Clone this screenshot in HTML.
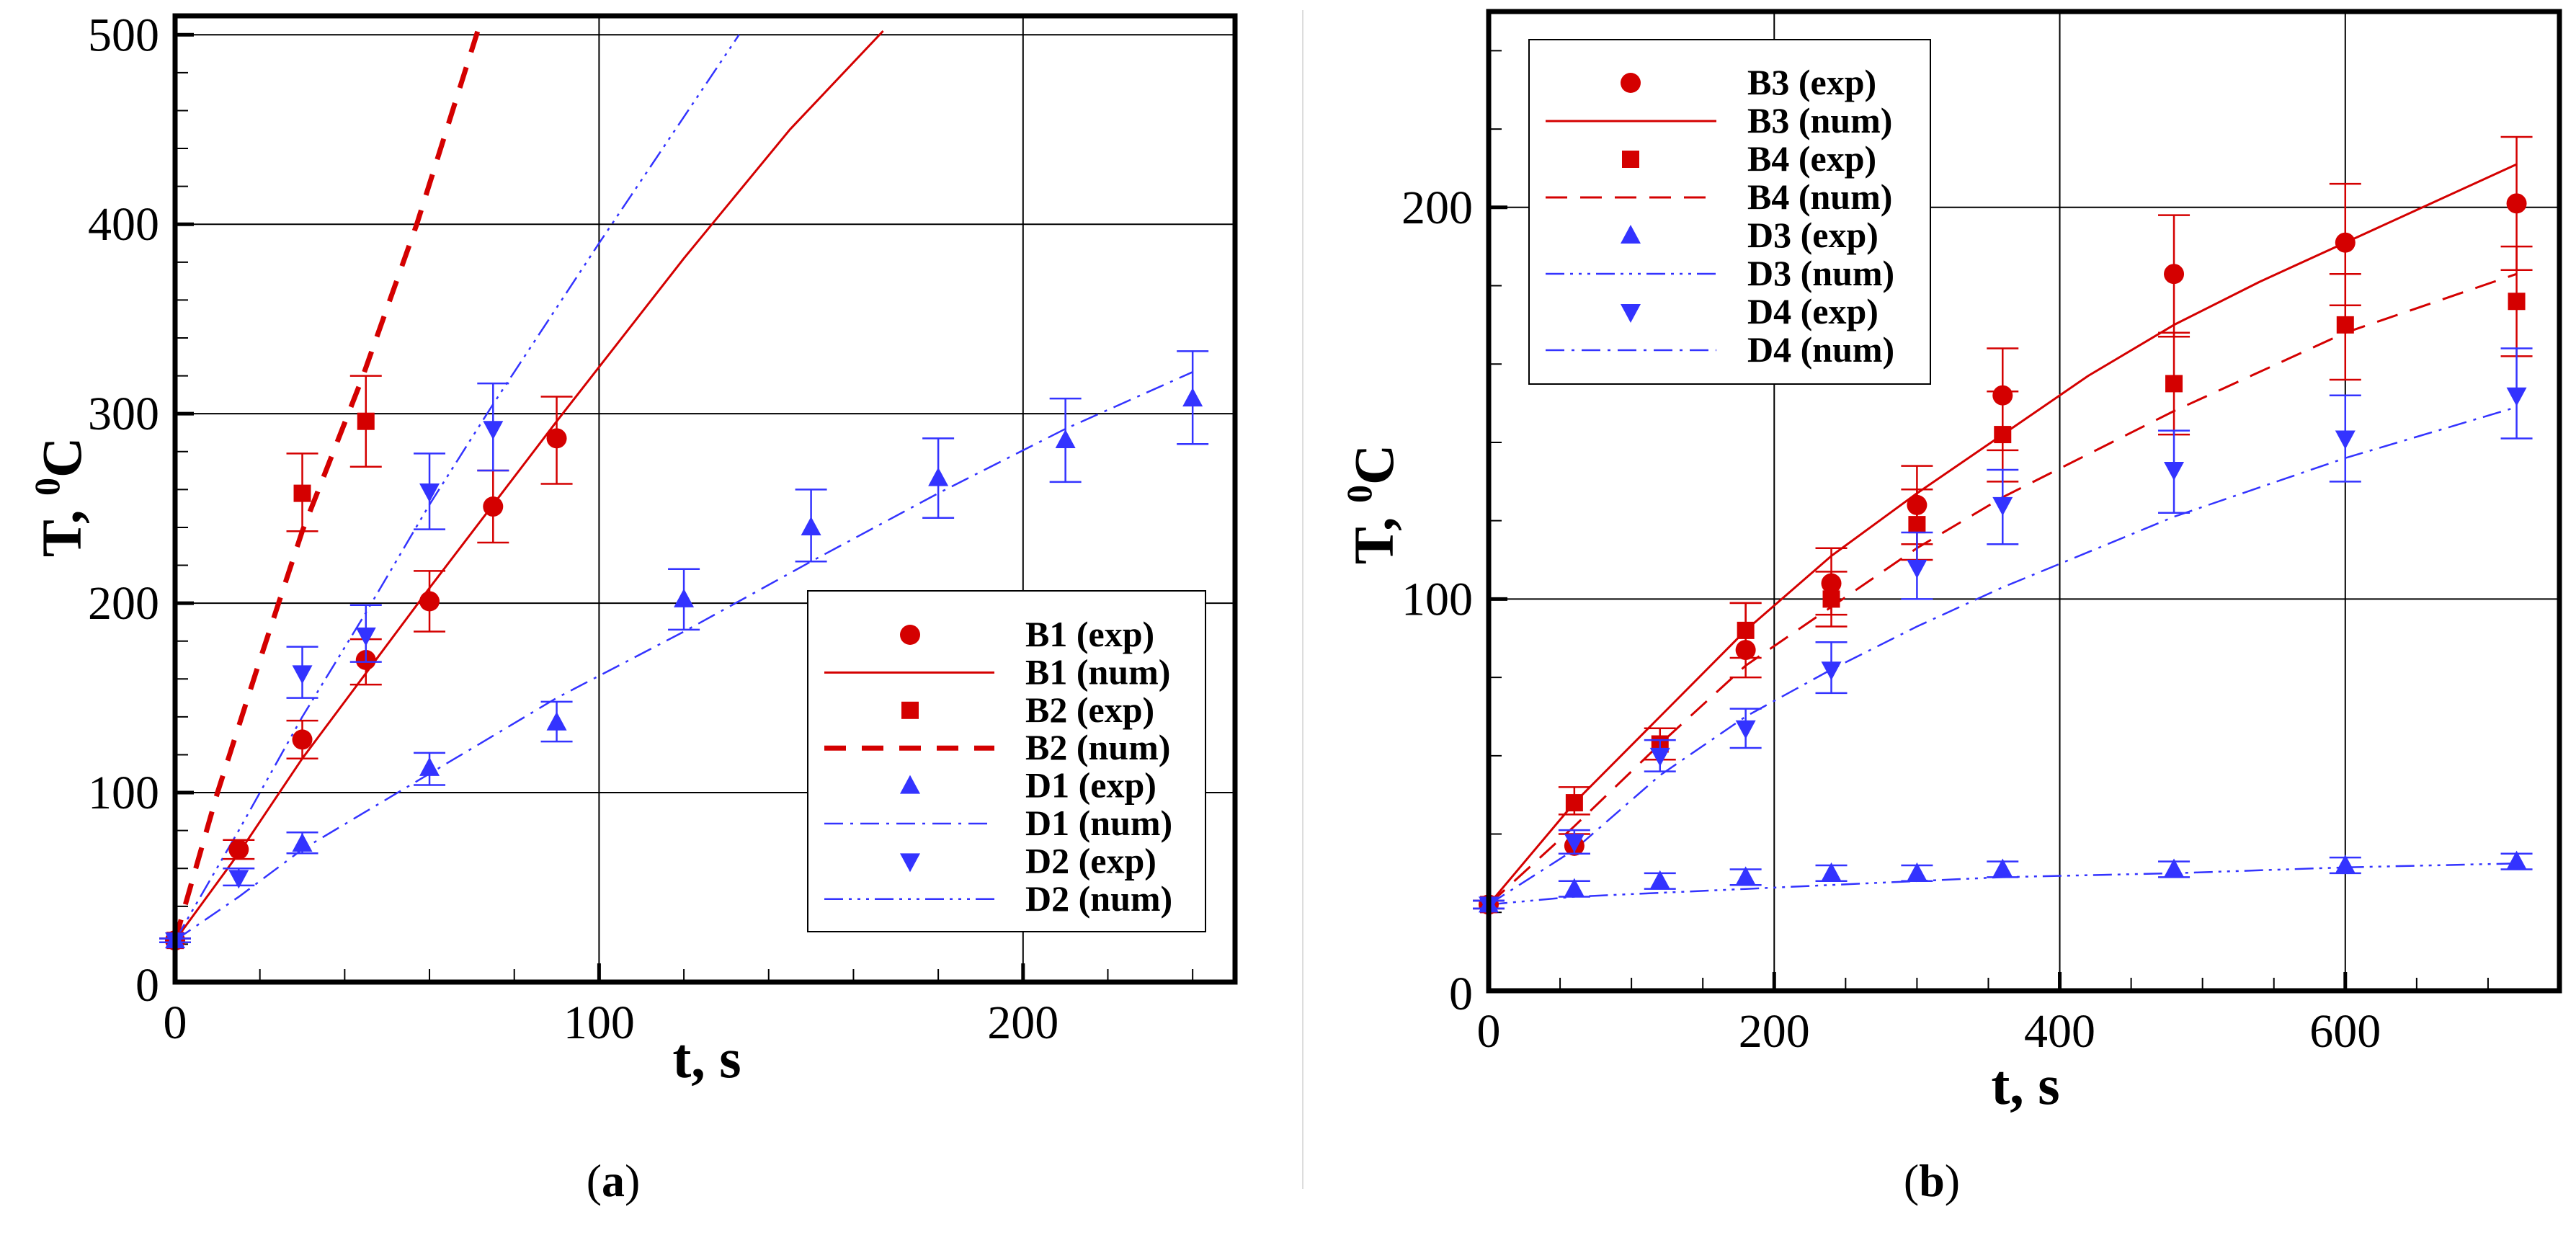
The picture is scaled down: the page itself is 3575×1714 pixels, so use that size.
<!DOCTYPE html>
<html><head><meta charset="utf-8">
<style>
html,body{margin:0;padding:0;background:#fff;}
svg{display:block;}
text{font-family:"Liberation Serif",serif;}
</style></head>
<body>
<svg id="s" width="3575" height="1714" viewBox="0 0 3575 1714" xmlns="http://www.w3.org/2000/svg">
<line x1="1808" y1="14" x2="1808" y2="1650" stroke="#ddd" stroke-width="2"/>
<text x="851" y="1660" font-size="64" text-anchor="middle">(<tspan font-weight="bold">a</tspan>)</text>
<text x="2681" y="1660" font-size="64" text-anchor="middle">(<tspan font-weight="bold">b</tspan>)</text>
</svg>
<script>
// ---- Panel A data ----
const aB1t=[0,15,30,45,60,75,90];
const aB1T=[22,70,128,170,201,251,287];
const aB1lo=[21,65,118,157,185,232,263];
const aB1hi=[23,75,138,181,217,270,309];
const aB1nt=[0,15,30,60,90,120,145,167];
const aB1nT=[22,68,118,208,296,382,450,502];
const aB2t=[0,30,45];
const aB2T=[22,258,296];
const aB2lo=[21,238,272];
const aB2hi=[23,279,320];
const aB2nt=[0,10,20,30,44,57,72.5];
const aB2nT=[22,100,170,238,318,400,510];
const aD1t=[0,30,60,90,120,150,180,210,240];
const aD1T=[22,73,113,137,202,240,266,286,308];
const aD1lo=[21,68,104,127,186,222,245,264,284];
const aD1hi=[23,79,121,148,218,260,287,308,333];
const aD1nt=[0,15,30,60,90,120,150,180,210,240];
const aD1nT=[22,45,70,110,150,185,222,258,292,322];
const aD2t=[0,15,30,45,60,75];
const aD2T=[22,55,163,183,259,292];
const aD2lo=[21,51,150,169,239,270];
const aD2hi=[23,60,177,199,279,316];
const aD2nt=[0,15,30,45,60,75,100,133];
const aD2nT=[22,80,140,195,252,305,390,500];
const aXTicks=[0,100,200];
const aYTicks=[0,100,200,300,400,500];
// ---- Panel B data ----
const bB3t=[0,60,180,240,300,360,480,600,720];
const bB3T=[22,37,87,104,124,152,183,191,201];
const bB3lo=[21,35,80,96,114,138,167,175,184];
const bB3hi=[23,40,99,113,134,164,198,206,218];
const bB3nt=[0,60,120,180,240,300,360,420,480,540,600,660,720];
const bB3nT=[22,48,70,92,111,127,142,157,170,181,191,201,211];
const bB4t=[0,60,120,180,240,300,360,480,600,720];
const bB4T=[22,48,63,92,100,119,142,155,170,176];
const bB4lo=[21,45,59,85,93,110,130,142,156,162];
const bB4hi=[23,52,67,99,107,128,153,168,183,190];
const bB4nt=[0,60,120,180,240,300,360,480,600,720];
const bB4nT=[22,42,63,83,98,113,126,148,168,183];
const bD3t=[0,60,120,180,240,300,360,480,600,720];
const bD3T=[22,26,28,29,30,30,31,31,32,33];
const bD3lo=[21,24,26,27,28,28,29,29,30,31];
const bD3hi=[23,28,30,31,32,32,33,33,34,35];
const bD3nt=[0,60,120,180,240,300,360,480,600,720];
const bD3nT=[22,24,25,26,27,28,29,30,31.5,32.5];
const bD4t=[0,60,120,180,240,300,360,480,600,720];
const bD4T=[22,38,60,67,82,108,124,133,141,152];
const bD4lo=[21,35,56,62,76,100,114,122,130,141];
const bD4hi=[23,41,64,72,89,117,133,143,152,164];
const bD4nt=[0,60,120,180,240,300,360,420,480,600,720];
const bD4nT=[22,36,55,70,82,93,103,112,121,136,149];
const bXTicks=[0,200,400,600];
const bYTicks=[0,100,200];

const NS="http://www.w3.org/2000/svg";
const svg=document.getElementById('s');
const RED="#d40000", BLUE="#3333ff";
function mk(tag,attrs,parent){const e=document.createElementNS(NS,tag);for(const k in attrs)e.setAttribute(k,attrs[k]);(parent||svg).appendChild(e);return e;}

function panel(P){
  const g=mk('g',{});
  
  
  const X=v=>P.x0+(v-P.xmin)/(P.xmax-P.xmin)*(P.x1-P.x0);
  const Y=v=>P.y0-(v-P.ymin)/(P.ymax-P.ymin)*(P.y0-P.y1);
  P.xt.forEach(v=>{ if(v>P.xmin&&v<P.xmax){const l=mk('line',{x1:X(v),x2:X(v),y1:P.y1,y2:P.y0,stroke:'#000','stroke-width':2},g);
    
    }});
  P.yt.forEach(v=>{ if(v>P.ymin&&v<P.ymax){const l=mk('line',{x1:P.x0,x2:P.x1,y1:Y(v),y2:Y(v),stroke:'#000','stroke-width':2},g);
    
    }});
  for(let v=P.xmin;v<=P.xmax;v+=P.xminor){mk('line',{x1:X(v),x2:X(v),y1:P.y0,y2:P.y0-(P.xt.includes(v)?26:18),stroke:'#000','stroke-width':P.xt.includes(v)?5:2},g);}
  for(let v=P.ymin;v<=P.ymax;v+=P.yminor){mk('line',{x1:P.x0,x2:P.x0+(P.yt.includes(v)?26:18),y1:Y(v),y2:Y(v),stroke:'#000','stroke-width':P.yt.includes(v)?5:2},g);}
  P.xt.forEach(v=>{const t=mk('text',{x:X(v),y:P.y0+78,'font-size':66,'text-anchor':'middle'},g);t.textContent=v;
    
    });
  P.yt.forEach(v=>{const t=mk('text',{x:P.x0-22,y:Y(v)+(v===0?26:22),'font-size':66,'text-anchor':'end'},g);t.textContent=v;
    
    });
  const xt=mk('text',{x:P.xtx,y:P.xty,'font-size':78,'font-weight':'bold','text-anchor':'middle'},g);xt.textContent='t, s';
  
  
  const yt=mk('text',{x:0,y:0,'font-size':78,'font-weight':'bold','text-anchor':'middle',transform:`translate(${P.ytx},${P.yty}) rotate(-90)`},g);
  yt.innerHTML='T, <tspan font-size="50" dy="-30">0</tspan><tspan dy="30">C</tspan>';
  
  
  const cid='clip'+P.name;
  const cp=mk('clipPath',{id:cid},g);mk('rect',{x:P.x0,y:P.y1,width:P.x1-P.x0,height:P.y0-P.y1},cp);
  const dg=mk('g',{'clip-path':`url(#${cid})`},g);
  P.series.forEach(s=>{
    if(s.type==='line'){
      const d=s.t.map((v,i)=>(i?'L':'M')+X(v).toFixed(1)+','+Y(s.T[i]).toFixed(1)).join(' ');
      const p=mk('path',{d:d,fill:'none',stroke:s.color,'stroke-width':s.w,'stroke-dasharray':s.dash||'none','stroke-linejoin':'round'},dg);
      
      
    } else {
      s.t.forEach((v,i)=>{
        const cx=X(v), cy=Y(s.T[i]);
        const eb=mk('path',{d:`M${cx},${Y(s.lo[i])}V${Y(s.hi[i])}M${cx-22},${Y(s.lo[i])}H${cx+22}M${cx-22},${Y(s.hi[i])}H${cx+22}`,stroke:s.color,'stroke-width':2.5,fill:'none'},g);
        
        
        const m=marker(s.mk,cx,cy,s.color,g);
        
        
      });
    }
  });
  const fr=mk('rect',{x:P.x0,y:P.y1,width:P.x1-P.x0,height:P.y0-P.y1,fill:'none',stroke:'#000','stroke-width':7},g);
  
  
  const L=P.legend;
  const lg=mk('g',{},g);
  
  
  mk('rect',{x:L.x,y:L.y,width:L.w,height:L.h,fill:'#fff',stroke:'#000','stroke-width':2},lg);
  L.items.forEach((it,i)=>{
    const y=L.rows[0]+i*L.dy;
    const e=mk('g',{},lg);
    
    
    if(it.mk) marker(it.mk,L.sx,y,it.color,e);
    else mk('line',{x1:L.lx1,x2:L.lx2,y1:y,y2:y,stroke:it.color,'stroke-width':it.w,'stroke-dasharray':it.dash||'none'},e);
    const t=mk('text',{x:L.tx,y:y+16,'font-size':50,'font-weight':'bold'},e);t.textContent=it.label;
  });
}
function marker(type,cx,cy,c,parent){
  const r=14;
  if(type==='circle') return mk('circle',{cx:cx,cy:cy,r:r,fill:c},parent);
  if(type==='square') return mk('rect',{x:cx-12,y:cy-12,width:24,height:24,fill:c},parent);
  if(type==='up') return mk('polygon',{points:`${cx},${cy-15} ${cx-14},${cy+11} ${cx+14},${cy+11}`,fill:c},parent);
  return mk('polygon',{points:`${cx},${cy+15} ${cx-14},${cy-11} ${cx+14},${cy-11}`,fill:c},parent);
}
const DD1="26,10,4,10", DD2="26,8,4,8,4,8,4,8";
panel({name:'panel-a',x0:243,x1:1714,y0:1363,y1:22,xmin:0,xmax:250,ymin:0,ymax:510,xt:aXTicks,yt:aYTicks,xminor:20,yminor:20,
  xtx:981,xty:1495,ytx:112,yty:690,
  series:[
    {id:'b1-num',type:'line',t:aB1nt,T:aB1nT,color:RED,w:3},
    {id:'b2-num',type:'line',t:aB2nt,T:aB2nT,color:RED,w:7,dash:'30,22'},
    {id:'d1-num',type:'line',t:aD1nt,T:aD1nT,color:BLUE,w:2.5,dash:DD1},
    {id:'d2-num',type:'line',t:aD2nt,T:aD2nT,color:BLUE,w:2.5,dash:DD2},
    {id:'b1-exp',mk:'circle',t:aB1t,T:aB1T,lo:aB1lo,hi:aB1hi,color:RED},
    {id:'b2-exp',mk:'square',t:aB2t,T:aB2T,lo:aB2lo,hi:aB2hi,color:RED},
    {id:'d1-exp',mk:'up',t:aD1t,T:aD1T,lo:aD1lo,hi:aD1hi,color:BLUE},
    {id:'d2-exp',mk:'down',t:aD2t,T:aD2T,lo:aD2lo,hi:aD2hi,color:BLUE}],
  legend:{x:1121,y:820,w:552,h:473,rows:[881],dy:52.4,sx:1263,lx1:1144,lx2:1380,tx:1423,items:[
    {label:'B1 (exp)',mk:'circle',color:RED},{label:'B1 (num)',color:RED,w:3},
    {label:'B2 (exp)',mk:'square',color:RED},{label:'B2 (num)',color:RED,w:7,dash:'30,22'},
    {label:'D1 (exp)',mk:'up',color:BLUE},{label:'D1 (num)',color:BLUE,w:2.5,dash:DD1},
    {label:'D2 (exp)',mk:'down',color:BLUE},{label:'D2 (num)',color:BLUE,w:2.5,dash:DD2}]}
});
panel({name:'panel-b',x0:2066,x1:3552,y0:1375,y1:16,xmin:0,xmax:750,ymin:0,ymax:250,xt:bXTicks,yt:bYTicks,xminor:50,yminor:20,
  xtx:2811,xty:1532,ytx:1933,yty:700,
  series:[
    {id:'b3-num',type:'line',t:bB3nt,T:bB3nT,color:RED,w:3},
    {id:'b4-num',type:'line',t:bB4nt,T:bB4nT,color:RED,w:3,dash:'30,18'},
    {id:'d3-num',type:'line',t:bD3nt,T:bD3nT,color:BLUE,w:2.5,dash:DD2},
    {id:'d4-num',type:'line',t:bD4nt,T:bD4nT,color:BLUE,w:2.5,dash:DD1},
    {id:'b3-exp',mk:'circle',t:bB3t,T:bB3T,lo:bB3lo,hi:bB3hi,color:RED},
    {id:'b4-exp',mk:'square',t:bB4t,T:bB4T,lo:bB4lo,hi:bB4hi,color:RED},
    {id:'d3-exp',mk:'up',t:bD3t,T:bD3T,lo:bD3lo,hi:bD3hi,color:BLUE},
    {id:'d4-exp',mk:'down',t:bD4t,T:bD4T,lo:bD4lo,hi:bD4hi,color:BLUE}],
  legend:{x:2122,y:55,w:557,h:478,rows:[115],dy:53,sx:2263,lx1:2145,lx2:2382,tx:2425,items:[
    {label:'B3 (exp)',mk:'circle',color:RED},{label:'B3 (num)',color:RED,w:3},
    {label:'B4 (exp)',mk:'square',color:RED},{label:'B4 (num)',color:RED,w:3,dash:'30,18'},
    {label:'D3 (exp)',mk:'up',color:BLUE},{label:'D3 (num)',color:BLUE,w:2.5,dash:DD2},
    {label:'D4 (exp)',mk:'down',color:BLUE},{label:'D4 (num)',color:BLUE,w:2.5,dash:DD1}]}
});
</script>
</body></html>
